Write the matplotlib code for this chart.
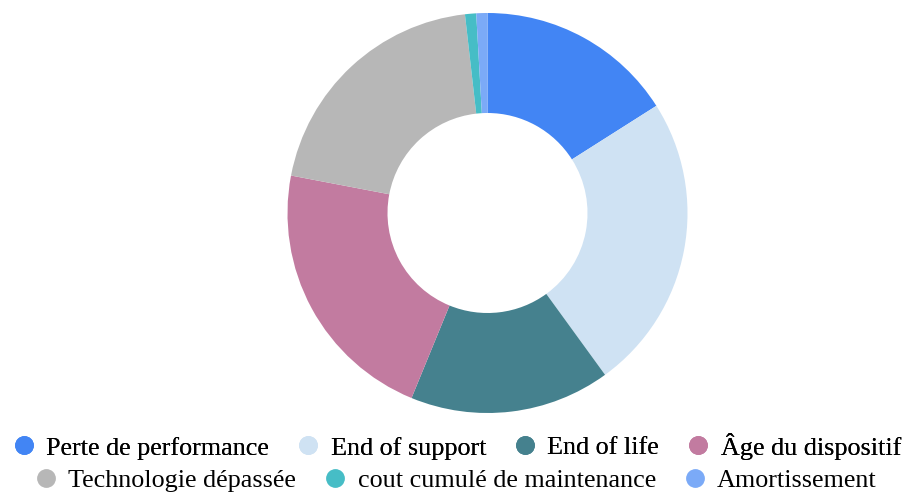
import matplotlib
matplotlib.use("Agg")
from matplotlib import pyplot as plt
from matplotlib.lines import Line2D

labels = ["Perte de performance", "End of support", "End of life",
          "Âge du dispositif", "Technologie dépassée",
          "cout cumulé de maintenance", "Amortissement"]
values = [16, 24, 16.2, 21.8, 20.2, 0.9, 0.9]
colors = ["#4285f4", "#cfe2f3", "#45818e", "#c27ba0", "#b7b7b7",
          "#46bdc6", "#7baaf7"]

plt.rcParams["font.family"] = ["Liberation Serif", "DejaVu Serif"]

fig = plt.figure(figsize=(9.03, 4.96), dpi=100)

# donut, drawn clockwise from 12 o'clock
ax = fig.add_axes([287.5 / 903, 83 / 496, 400 / 903, 400 / 496])
ax.pie(values, colors=colors, startangle=90, counterclock=False,
       radius=1.0, wedgeprops=dict(width=0.5, linewidth=0))
ax.set_xlim(-1, 1)
ax.set_ylim(-1, 1)
ax.set_aspect("equal")
ax.axis("off")

handles = [Line2D([], [], marker="o", linestyle="none", markersize=12.5,
                  markerfacecolor=c, markeredgecolor=c) for c in colors]

legend_kw = dict(loc="center", frameon=False, fontsize=18.8,
                 handlelength=0.7, handletextpad=0.5,
                 columnspacing=1.15, borderpad=0)

# two rows, each centered on its own
leg1 = fig.legend(handles[:4], labels[:4], ncol=4,
                  bbox_to_anchor=(458 / 903, 1 - 446 / 496), **legend_kw)
fig.add_artist(leg1)
fig.legend(handles[4:], labels[4:], ncol=3,
           bbox_to_anchor=(457 / 903, 1 - 480 / 496), **legend_kw)

fig.savefig("out.png", dpi=100)
plt.close(fig)
